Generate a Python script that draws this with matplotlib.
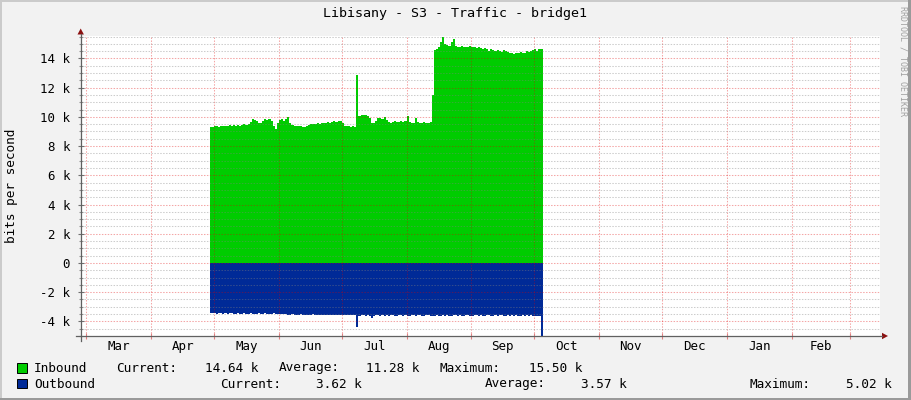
import matplotlib
matplotlib.use('Agg')
import matplotlib.pyplot as plt
import matplotlib.dates as mdates
from matplotlib.lines import Line2D
from matplotlib.patches import Polygon, Rectangle
from matplotlib.ticker import MultipleLocator, FuncFormatter, FixedLocator, NullFormatter
import numpy as np
import pandas as pd

# ---------------- data ----------------
title = "Libisany - S3 - Traffic - bridge1"
ylabel = "bits per second"
credit = "RRDTOOL / TOBI OETIKER"
start_date = "2021-04-29"          # first day with data (daily samples)
axis_start = "2021-03-01"
axis_end = "2022-03-01"
month_labels = ['Mar', 'Apr', 'May', 'Jun', 'Jul', 'Aug', 'Sep', 'Oct', 'Nov', 'Dec', 'Jan', 'Feb']

# inbound traffic, k bits/s, one value per day
inbound_k = [
    9.30, 9.28, 9.35, 9.38, 9.33, 9.36, 9.40, 9.35, 9.38,
    9.42, 9.40, 9.45, 9.38, 9.42, 9.40, 9.45, 9.48, 9.44, 9.50,
    9.65, 9.85, 9.80, 9.72, 9.60, 9.55,
    9.75, 9.85, 9.80, 9.88, 9.70,
    9.40, 9.17, 9.60,
    9.78, 9.82, 9.75, 9.85, 10.02,
    9.60, 9.45, 9.40, 9.38, 9.35, 9.40, 9.30, 9.28, 9.40,
    9.45, 9.50, 9.48, 9.52, 9.55, 9.50, 9.58, 9.60, 9.55, 9.62, 9.58, 9.65,
    9.70, 9.68, 9.75, 9.72, 9.60,
    9.40, 9.35, 9.38, 9.30, 9.35, 9.32,
    12.87,
    10.05, 10.12, 10.15, 10.10, 10.05, 9.90,
    9.55, 9.60, 9.75,
    9.90, 9.95, 9.85, 9.98, 9.80,
    9.65, 9.60, 9.68, 9.70, 9.62, 9.65, 9.70, 9.66, 9.72, 10.06, 9.65, 9.60,
    9.55, 9.90, 9.62, 9.58, 9.60, 9.62, 9.58, 9.60, 9.65,
    11.50,
    14.60, 14.62, 14.80, 15.10, 15.50, 15.00,
    14.90, 14.85, 15.15, 15.30,
    14.85, 14.80, 14.78, 14.82, 14.75, 14.80, 14.78, 14.82, 14.76, 14.80, 14.72, 14.75, 14.70, 14.68, 14.72, 14.65,
    14.50, 14.62, 14.55, 14.48, 14.60, 14.52, 14.45, 14.55, 14.48, 14.42,
    14.35, 14.38, 14.32, 14.40, 14.38, 14.45, 14.40, 14.35, 14.50, 14.42, 14.48,
    14.55, 14.62, 14.50, 14.68, 14.64,
]

# outbound traffic, k bits/s (drawn below zero), one value per day
outbound_k = [
    3.44, 3.45, 3.43, 3.46, 3.45, 3.44, 3.47, 3.45, 3.46, 3.44,
    3.45, 3.47, 3.46, 3.45, 3.48, 3.46, 3.45, 3.47, 3.46, 3.44,
    3.46, 3.48, 3.47, 3.45, 3.46, 3.47, 3.45, 3.46, 3.48, 3.46,
    3.40, 3.47, 3.48, 3.46, 3.50,
    3.52, 3.50, 3.53, 3.55, 3.52, 3.54, 3.53, 3.55, 3.52, 3.54,
    3.56, 3.53, 3.55, 3.54, 3.52, 3.55, 3.53, 3.56, 3.54, 3.55,
    3.53, 3.56, 3.54, 3.55, 3.57, 3.54, 3.56, 3.55, 3.53, 3.56,
    3.55, 3.57, 3.56, 3.58, 3.55,
    4.36,
    3.62, 3.58, 3.59, 3.60, 3.58, 3.61, 3.80, 3.60, 3.59,
    3.58, 3.60, 3.59, 3.61, 3.58, 3.60, 3.59, 3.58, 3.60, 3.61,
    3.59, 3.58, 3.60, 3.59, 3.61, 3.60, 3.58, 3.59, 3.60, 3.58,
    3.59, 3.61, 3.60, 3.58, 3.59, 3.60, 3.62, 3.60, 3.59, 3.61,
    3.60, 3.58, 3.60, 3.59, 3.61, 3.60, 3.59, 3.58, 3.60, 3.59,
    3.61, 3.60, 3.58, 3.59, 3.60, 3.61, 3.59, 3.58, 3.60, 3.59,
    3.60, 3.61, 3.59, 3.58, 3.60, 3.62, 3.59, 3.60, 3.58, 3.59,
    3.61, 3.60, 3.59, 3.60, 3.58, 3.61, 3.59, 3.60, 3.62, 3.59,
    3.60, 3.58, 3.61, 3.59, 3.60, 3.61, 3.60,
    3.60, 5.02,
]

series_names = ['Inbound', 'Outbound']
series_colors = ['#00CC00', '#002A97']
stat_current = ['14.64 k', '3.62 k']
stat_average = ['11.28 k', '3.57 k']
stat_maximum = ['15.50 k', '5.02 k']

# ---------------- figure ----------------
MONO = 'DejaVu Sans Mono'
plt.rcParams['font.family'] = [MONO]
W, H = 911, 400
fig = plt.figure(figsize=(W / 100, H / 100), dpi=100, facecolor='#F2F2F2')


def fx(x):
    return x / W


def fy(y):
    return 1 - y / H


L, R, T, B = 80.7, 880.0, 35.5, 336.0
ax = fig.add_axes([fx(L), fy(B), fx(R) - fx(L), fy(T) - fy(B)])
ax.set_facecolor('white')
for s in ax.spines.values():
    s.set_visible(False)

dates = pd.date_range(start_date, periods=len(inbound_k), freq='D')
edges = mdates.date2num(list(dates) + [dates[-1] + pd.Timedelta(days=1)])
inb = np.array(inbound_k) * 1000.0
outb = -np.array(outbound_k) * 1000.0
ax.stairs(inb, edges, baseline=0, fill=True, color=series_colors[0], lw=0, zorder=1)
ax.stairs(outb, edges, baseline=0, fill=True, color=series_colors[1], lw=0, zorder=1)

month_starts = pd.date_range(axis_start, axis_end, freq='MS')
ms_num = mdates.date2num(list(month_starts))
mid_num = (ms_num[:-1] + ms_num[1:]) / 2.0
ax.set_xlim(ms_num[0] - 2.7, ms_num[-1] + 14.2)
ax.set_ylim(-5000, 15570)

ax.xaxis.set_major_locator(FixedLocator(ms_num))
ax.xaxis.set_major_formatter(NullFormatter())
ax.set_xticks(mid_num, month_labels, minor=True)

ax.yaxis.set_major_locator(MultipleLocator(2000))
ax.yaxis.set_minor_locator(MultipleLocator(500))
ax.yaxis.set_major_formatter(FuncFormatter(lambda v, p: '0' if abs(v) < 1 else '%d k' % round(v / 1000)))

ax.tick_params(axis='x', which='major', direction='inout', length=5, width=0.8, color='#E08080')
ax.tick_params(axis='x', which='minor', length=0, pad=3.0, labelsize=9)
ax.tick_params(axis='y', which='major', direction='inout', length=5, width=0.8, color='#707070', pad=5.2, labelsize=9)
ax.tick_params(axis='y', which='minor', direction='inout', length=3, width=0.8, color='#909090')

ax.set_axisbelow(False)
dots = (0, (1.4, 1.4))
ax.grid(which='major', axis='y', color='#E00000', alpha=0.35, linestyle=dots, lw=0.75)
ax.grid(which='minor', axis='y', color='#808080', alpha=0.4, linestyle=dots, lw=0.75)
ax.grid(which='major', axis='x', color='#E00000', alpha=0.35, linestyle=dots, lw=0.75)

# axis lines + arrows (RRDtool style)
axc = '#606060'
fig.add_artist(Line2D([fx(76), fx(882)], [fy(336), fy(336)], color=axc, lw=0.9))
fig.add_artist(Line2D([fx(80.7), fx(80.7)], [fy(341), fy(34)], color=axc, lw=0.9))
arc = '#8B1010'
fig.add_artist(Polygon([[fx(882), fy(332.8)], [fx(882), fy(339.2)], [fx(888), fy(336)]], closed=True, color=arc, lw=0))
fig.add_artist(Polygon([[fx(77.5), fy(34.5)], [fx(83.9), fy(34.5)], [fx(80.7), fy(28.5)]], closed=True, color=arc, lw=0))

# texts
fig.text(fx(455), fy(14), title, ha='center', va='center', size=9.6, family=MONO)
fig.text(fx(12), fy(186), ylabel, ha='center', va='center', rotation=90, size=9.2, family=MONO)
fig.text(fx(903), fy(61), credit, ha='center', va='center', rotation=270, size=6, color='#A0A0A0', family=MONO)

# legend
row_y = [368, 384]
box_y = [363.3, 379.0]
xpos = [
    [116, 205, 279, 366, 440, 529],
    [220, 316, 485, 581, 750, 846],
]
for i in range(2):
    fig.add_artist(Rectangle((fx(17.4), fy(box_y[i] + 9.4)), fx(9.6), 9.4 / H,
                             facecolor=series_colors[i], edgecolor='black', lw=0.7))
    fig.text(fx(34), fy(row_y[i]), series_names[i], ha='left', va='center', size=9.2, family=MONO)
    items = ['Current:', stat_current[i], 'Average:', stat_average[i], 'Maximum:', stat_maximum[i]]
    for x, s in zip(xpos[i], items):
        fig.text(fx(x), fy(row_y[i]), s, ha='left', va='center', size=9.2, family=MONO)

# image frame
fig.add_artist(Rectangle((0, fy(2)), 1, 2 / H, color='#CBCBCB', lw=0))
fig.add_artist(Rectangle((0, 0), fx(2), 1, color='#CBCBCB', lw=0))
fig.add_artist(Rectangle((fx(908), 0), fx(3), 1, color='#9A9A9A', lw=0))
fig.add_artist(Rectangle((0, 0), 1, 2 / H, color='#9A9A9A', lw=0))

fig.savefig('out.png', dpi=100, facecolor=fig.get_facecolor())
